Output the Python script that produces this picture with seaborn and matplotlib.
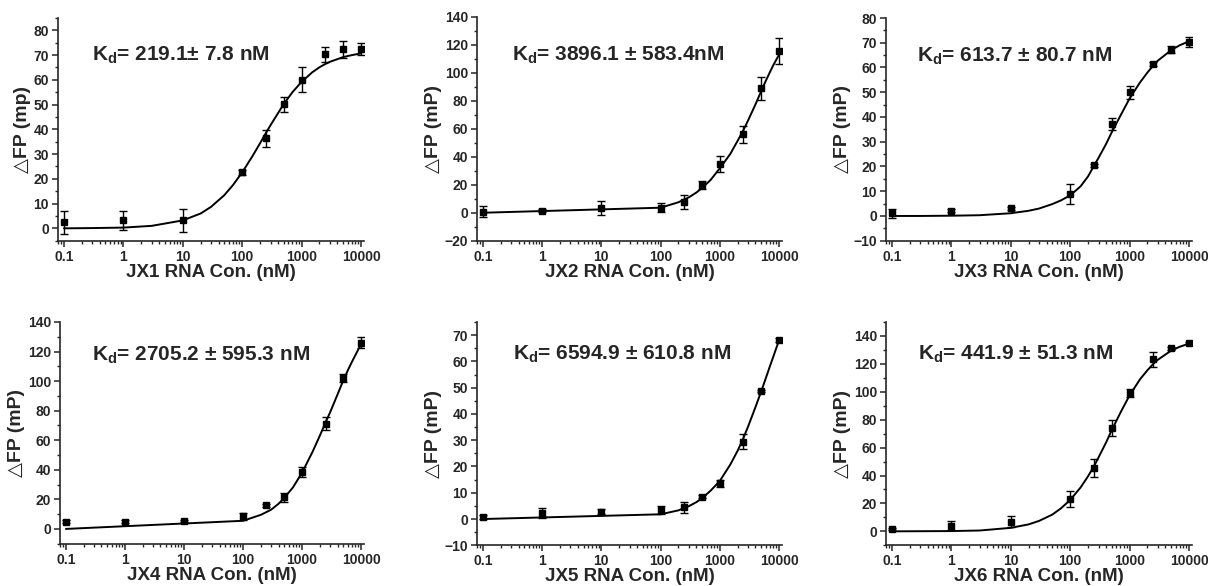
import numpy as np
import pandas as pd
import seaborn as sns
from matplotlib import pyplot as plt
from matplotlib.ticker import MultipleLocator, LogLocator, NullFormatter

# concentrations (nM) of the measured points
conc = [0.1, 1, 10, 100, 250, 500, 1000, 2500, 5000, 10000]

# measured dFP values and error bars
jx1_fp = [2.4, 3.2, 3.2, 22.6, 36.4, 50.1, 60.1, 70.4, 72.3, 72.5]
jx1_err = [4.6, 4.0, 4.6, 1.0, 3.4, 3.0, 5.0, 3.0, 3.3, 2.3]
jx2_fp = [0.6, 1.6, 3.3, 3.7, 7.8, 19.8, 34.9, 56.0, 88.9, 115.5]
jx2_err = [4.0, 1.0, 5.0, 3.0, 4.8, 3.0, 5.8, 5.8, 8.0, 9.3]
jx3_fp = [1.1, 2.1, 3.1, 8.8, 20.4, 37.1, 49.9, 61.4, 67.2, 70.4]
jx3_err = [1.8, 0.6, 0.5, 4.0, 0.7, 2.3, 2.7, 0.8, 1.4, 2.0]
jx4_fp = [4.7, 4.9, 5.2, 8.5, 15.9, 21.5, 38.3, 71.2, 102.2, 126.1]
jx4_err = [1.0, 1.0, 0.8, 2.5, 1.2, 3.0, 3.4, 4.5, 2.7, 4.0]
jx5_fp = [0.9, 2.2, 2.8, 3.5, 4.4, 8.5, 13.6, 29.5, 48.7, 68.1]
jx5_err = [0.8, 1.9, 1.0, 1.5, 2.2, 0.5, 1.3, 2.8, 0.5, 0.8]
jx6_fp = [1.7, 4.1, 7.0, 23.3, 45.1, 74.0, 99.2, 123.2, 131.1, 135.0]
jx6_err = [0.8, 3.1, 4.0, 5.7, 6.5, 5.5, 3.0, 5.5, 1.0, 1.0]

# fitted curves
smooth_x = [0.1, 0.3, 1, 3, 10, 20, 30, 50, 70, 100, 150, 200, 250, 300, 400,
            500, 700, 1000, 1500, 2000, 2500, 3000, 5000, 7000, 10000]
jx1_fit = [0.0, 0.1, 0.3, 1.0, 3.2, 6.0, 8.7, 13.4, 17.5, 22.6, 29.3, 34.4, 38.5,
           41.7, 46.5, 50.2, 55.0, 59.2, 63.0, 65.1, 66.4, 67.3, 69.2, 70.0, 70.7]
jx3_fit = [0.0, 0.0, 0.1, 0.3, 1.1, 2.1, 3.0, 4.8, 6.3, 8.3, 12.0, 16.0, 20.2,
           23.5, 29.0, 33.8, 40.5, 47.5, 54.0, 58.0, 60.8, 62.8, 67.0, 69.0, 70.6]
jx6_fit = [0.0, 0.1, 0.2, 0.6, 2.5, 5.0, 7.5, 12.0, 16.5, 22.5, 31.5, 39.5, 46.5,
           53.0, 63.5, 72.5, 85.0, 97.5, 109.0, 115.5, 120.0, 123.0, 129.5, 132.3, 134.5]

kink_x = [0.1, 100, 200, 300, 400, 500, 700, 1000, 1500, 2000, 2500, 3000,
          4000, 5000, 6000, 7000, 8000, 9000, 10000]
jx2_fit = [0.0, 3.6, 7.5, 11.0, 14.4, 17.6, 23.5, 31.8, 42.0, 51.5, 59.0, 66.0,
           77.5, 87.0, 94.5, 100.5, 105.5, 109.5, 113.0]
jx4_fit = [0.0, 5.5, 9.5, 13.0, 17.0, 21.0, 28.0, 38.0, 52.0, 63.0, 72.0, 79.0,
           91.0, 100.5, 107.5, 113.0, 117.5, 121.5, 125.0]
jx5_fit = [0.0, 1.8, 3.3, 4.9, 6.4, 7.9, 10.8, 14.5, 20.7, 26.0, 30.8, 35.2,
           42.6, 48.6, 53.7, 58.1, 61.8, 65.1, 68.0]

kd_text = ['219.1\u00b1 7.8 nM', '3896.1 \u00b1 583.4nM', '613.7 \u00b1 80.7 nM',
           '2705.2 \u00b1 595.3 nM', '6594.9 \u00b1 610.8 nM', '441.9 \u00b1 51.3 nM']
y_labels = ['\u25b3FP (mp)', '\u25b3FP (mP)', '\u25b3FP (mP)',
            '\u25b3FP (mP)', '\u25b3FP (mP)', '\u25b3FP (mP)']
x_labels = [f'JX{i} RNA Con. (nM)' for i in range(1, 7)]

sns.set_style('ticks')
plt.rcParams['font.family'] = ['Liberation Sans', 'DejaVu Sans']
plt.rcParams['font.weight'] = 'bold'
plt.rcParams['axes.labelweight'] = 'bold'
plt.rcParams['mathtext.fontset'] = 'custom'
plt.rcParams['mathtext.rm'] = 'Liberation Sans:bold'
plt.rcParams['mathtext.it'] = 'Liberation Sans:bold'
plt.rcParams['mathtext.bf'] = 'Liberation Sans:bold'

W, H = 1208, 586
fig = plt.figure(figsize=(W / 100, H / 100), dpi=100)

# axes boxes in pixels: left, right, top, bottom
boxes = [(58, 364, 18, 240.7), (477, 782, 17, 240.7), (886, 1192, 18, 240.7),
         (60, 364, 322, 543.7), (477, 782, 322, 545.3), (886, 1192, 322, 545.3)]
ylims = [(-5, 85), (-20, 140), (-10, 80), (-10, 140), (-10, 75), (-10, 150)]
yticks = [np.arange(0, 81, 10), np.arange(-20, 141, 20), np.arange(-10, 81, 10),
          np.arange(0, 141, 20), np.arange(-10, 71, 10), np.arange(0, 141, 20)]
yminor = [5, 10, 5, 10, 5, 10]
text_pos = [(0.111, 0.834), (0.116, 0.83), (0.101, 0.83),
            (0.106, 0.851), (0.118, 0.855), (0.103, 0.855)]

points = [(jx1_fp, jx1_err), (jx2_fp, jx2_err), (jx3_fp, jx3_err),
          (jx4_fp, jx4_err), (jx5_fp, jx5_err), (jx6_fp, jx6_err)]
fits = [(smooth_x, jx1_fit), (kink_x, jx2_fit), (smooth_x, jx3_fit),
        (kink_x, jx4_fit), (kink_x, jx5_fit), (smooth_x, jx6_fit)]

for i in range(6):
    l, r, t, b = boxes[i]
    ax = fig.add_axes([l / W, 1 - b / H, (r - l) / W, (b - t) / H])

    fx, fy = fits[i]
    fit_df = pd.DataFrame({'conc': fx, 'fp': fy})
    sns.lineplot(data=fit_df, x='conc', y='fp', ax=ax, color='black',
                 linewidth=1.4, estimator=None, sort=False)

    fp, err = points[i]
    ax.errorbar(conc, fp, yerr=err, fmt='s', color='black', ms=4.5,
                elinewidth=1.0, capsize=3, capthick=1.0, zorder=3)

    ax.set_xscale('log')
    ax.set_xlim(10 ** -1.1, 10 ** 4.05)
    ax.set_ylim(*ylims[i])
    ax.set_xticks([0.1, 1, 10, 100, 1000, 10000])
    ax.set_xticklabels(['0.1', '1', '10', '100', '1000', '10000'])
    ax.xaxis.set_minor_locator(LogLocator(base=10, subs=np.arange(2, 10)))
    ax.xaxis.set_minor_formatter(NullFormatter())
    ax.set_yticks(yticks[i])
    ax.yaxis.set_minor_locator(MultipleLocator(yminor[i]))

    ax.tick_params(which='major', direction='out', length=4.5, width=1.1,
                   labelsize=10, pad=2)
    ax.tick_params(which='minor', direction='out', length=2.5, width=1.0)
    for s in ['left', 'bottom']:
        ax.spines[s].set_linewidth(1.2)
    sns.despine(ax=ax)

    ax.set_xlabel(x_labels[i], fontsize=13.5, labelpad=0)
    ax.set_ylabel(y_labels[i], fontsize=14, labelpad=2)

    ax.text(text_pos[i][0], text_pos[i][1], r'$\mathrm{K_d}$= ' + kd_text[i],
            transform=ax.transAxes, fontsize=15, fontweight='bold',
            va='center', ha='left')

plt.savefig('out.png', dpi=100)
